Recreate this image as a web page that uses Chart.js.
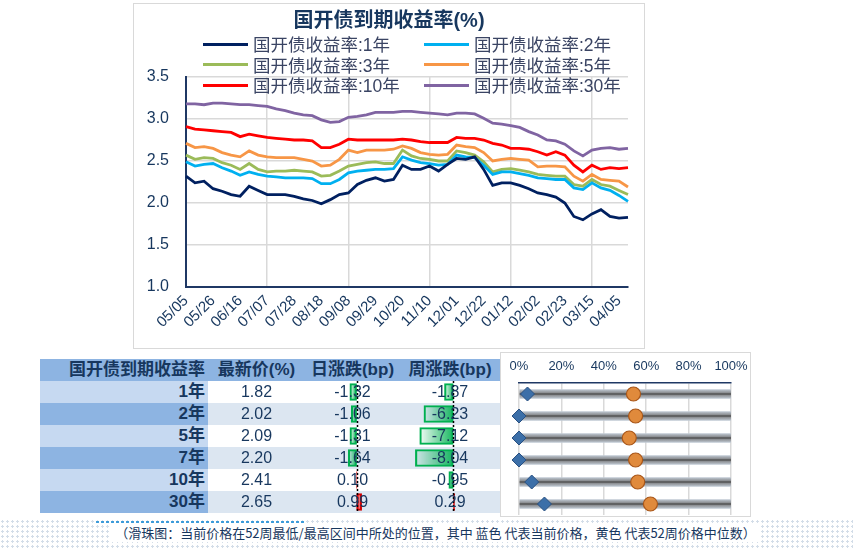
<!DOCTYPE html>
<html>
<head>
<meta charset="utf-8">
<script src="https://cdn.jsdelivr.net/npm/chart.js@4.4.1/dist/chart.umd.min.js"></script>
<style>
  body { margin: 0; width: 853px; height: 550px; position: relative; overflow: hidden; background: #fff;
         font-family: "Liberation Sans", "Noto Sans CJK SC", sans-serif; color: #17375e; }
  .abs { position: absolute; }
  #lineFrame { left: 133px; top: 3px; width: 512px; height: 346px; border: 1px solid #d9d9d9; box-sizing: border-box; }
  #lineTitle { left: 133px; top: 8px; width: 512px; text-align: center; font-size: 20px; font-weight: bold; line-height: 24px; color: #17375e; }
  .lg { font-size: 17.5px; line-height: 20px; color: #3a4463; white-space: nowrap; }
  .lg i { display: inline-block; width: 45px; height: 3px; vertical-align: middle; margin-right: 5px; position: relative; top: -2px; }
  #sliderFrame { left: 500px; top: 352px; width: 251px; height: 165px; border: 1px solid #d9d9d9; box-sizing: border-box; }
  .cellTxt { line-height: 22px; height: 22px; white-space: nowrap; }
  #dots { left: 0; top: 519px; width: 853px; height: 31px;
          background-image: radial-gradient(circle, #d3dde8 1px, rgba(255,255,255,0) 1.4px);
          background-size: 5px 5px; }
  #dotsAccent { left: 95px; top: 520px; width: 210px; height: 4px;
          background-image: radial-gradient(circle, #3a9ad9 1.1px, rgba(255,255,255,0) 1.5px);
          background-size: 5px 4px; }
  #caption { left: 9px; top: 525px; width: 853px; text-align: center; font-size: 13px; line-height: 16px;
             font-family: "Noto Sans CJK SC", sans-serif; color: #17375e; }
  #caption span { background: #fff; padding: 0 4px; }
</style>
</head>
<body>
<div id="lineFrame" class="abs"></div>
<canvas id="lineChart" class="abs" style="left:133px;top:3px" width="512" height="346"></canvas>
<div id="lineTitle" class="abs">国开债到期收益率(%)</div>
<div id="legend"></div>

<div id="tblBg"></div>
<canvas id="dayChart" class="abs" style="left:305px;top:381px" width="95" height="132"></canvas>
<canvas id="weekChart" class="abs" style="left:400px;top:381px" width="100" height="132"></canvas>
<div id="tblTxt"></div>

<div id="sliderFrame" class="abs"></div>
<canvas id="sliderChart" class="abs" style="left:500px;top:352px" width="250" height="166"></canvas>

<div id="dots" class="abs"></div>
<div id="caption" class="abs"><span>（滑珠图：当前价格在52周最低/最高区间中所处的位置，其中 蓝色 代表当前价格，黄色 代表52周价格中位数）</span></div>
<div id="dotsAccent" class="abs"></div>

<script>
// weekly dates, 2023-05-05 to 2024-04-12
const dates = ['05/05','05/12','05/19','05/26','06/02','06/09','06/16','06/23','06/30','07/07',
  '07/14','07/21','07/28','08/04','08/11','08/18','08/25','09/01','09/08','09/15',
  '09/22','09/29','10/06','10/13','10/20','10/27','11/03','11/10','11/17','11/24',
  '12/01','12/08','12/15','12/22','12/29','01/05','01/12','01/19','01/26','02/02',
  '02/09','02/16','02/23','03/01','03/08','03/15','03/22','03/29','04/05','04/12'];

const y1 = [2.32,2.24,2.26,2.17,2.14,2.10,2.08,2.20,2.15,2.10,
  2.10,2.10,2.08,2.05,2.03,1.99,2.04,2.10,2.12,2.22,
  2.27,2.30,2.26,2.28,2.45,2.40,2.40,2.44,2.38,2.46,
  2.53,2.52,2.55,2.40,2.21,2.24,2.24,2.21,2.17,2.12,
  2.10,2.07,2.00,1.84,1.80,1.87,1.92,1.84,1.82,1.83];
const y2 = [2.49,2.44,2.46,2.47,2.42,2.38,2.33,2.37,2.34,2.32,
  2.31,2.30,2.30,2.30,2.29,2.23,2.23,2.28,2.36,2.38,
  2.39,2.40,2.40,2.41,2.55,2.51,2.48,2.47,2.45,2.46,
  2.57,2.55,2.54,2.45,2.34,2.37,2.37,2.35,2.33,2.30,
  2.29,2.28,2.28,2.18,2.16,2.24,2.18,2.15,2.09,2.02];
const y3 = [2.57,2.52,2.54,2.53,2.48,2.45,2.40,2.47,2.40,2.37,
  2.38,2.38,2.39,2.38,2.37,2.32,2.33,2.38,2.44,2.46,
  2.48,2.49,2.47,2.47,2.63,2.56,2.53,2.52,2.50,2.50,
  2.62,2.60,2.57,2.49,2.37,2.40,2.41,2.39,2.37,2.34,
  2.33,2.32,2.32,2.22,2.20,2.28,2.22,2.20,2.15,2.10];
const y5 = [2.71,2.66,2.67,2.65,2.60,2.57,2.55,2.62,2.57,2.55,
  2.54,2.54,2.54,2.52,2.50,2.44,2.45,2.52,2.63,2.60,
  2.63,2.63,2.63,2.64,2.68,2.65,2.60,2.58,2.57,2.58,
  2.69,2.67,2.66,2.60,2.50,2.52,2.53,2.52,2.51,2.43,
  2.44,2.44,2.43,2.32,2.26,2.34,2.28,2.27,2.26,2.19];
const y10 = [2.91,2.88,2.87,2.86,2.85,2.84,2.79,2.82,2.80,2.78,
  2.77,2.76,2.75,2.75,2.74,2.66,2.66,2.70,2.76,2.75,
  2.75,2.75,2.75,2.75,2.76,2.75,2.73,2.72,2.72,2.72,
  2.78,2.77,2.77,2.75,2.71,2.69,2.65,2.65,2.64,2.61,
  2.57,2.61,2.57,2.45,2.37,2.45,2.40,2.42,2.41,2.42];
const y30 = [3.18,3.18,3.17,3.19,3.19,3.18,3.17,3.17,3.16,3.15,
  3.12,3.10,3.07,3.05,3.04,2.99,2.96,2.97,3.02,3.03,
  3.05,3.08,3.08,3.08,3.09,3.09,3.08,3.07,3.06,3.05,
  3.07,3.07,3.06,3.01,2.95,2.94,2.92,2.90,2.85,2.81,
  2.75,2.74,2.70,2.62,2.56,2.63,2.65,2.66,2.64,2.65];

const seriesNames = ['国开债收益率:1年','国开债收益率:2年','国开债收益率:3年','国开债收益率:5年','国开债收益率:10年','国开债收益率:30年'];
const seriesColors = ['#002060','#00b0f0','#9bbb59','#f79646','#ff0000','#8064a2'];
const seriesValues = [y1, y2, y3, y5, y10, y30];

// table
const tenors = ['1年','2年','5年','7年','10年','30年'];
const latest = [1.82, 2.02, 2.09, 2.20, 2.41, 2.65];
const dailyChg = [-1.32, -1.06, -1.31, -1.64, 0.10, 0.99];
const weeklyChg = [-1.87, -6.23, -7.12, -8.04, -0.95, 0.29];
const headers = ['国开债到期收益率','最新价(%)','日涨跌(bp)','周涨跌(bp)'];

// slider: position within 52-week range (%)
const currentPct = [4, 0, 0, 0, 6, 12];
const medianPct = [54, 55, 52, 55, 56, 62];
const pctTicks = [0, 20, 40, 60, 80, 100];

const navy = '#17375e';
const numFont = '"Liberation Sans", "Noto Sans CJK SC", sans-serif';

// legend (html, two columns)
const legend = document.getElementById('legend');
seriesNames.forEach((name, i) => {
  const d = document.createElement('div');
  d.className = 'abs lg';
  d.style.left = (i % 2 === 0 ? 203 : 424) + 'px';
  d.style.top = (35 + Math.floor(i / 2) * 20.5) + 'px';
  d.innerHTML = '<i style="background:' + seriesColors[i] + '"></i>' + name;
  legend.appendChild(d);
});

new Chart(document.getElementById('lineChart'), {
  type: 'line',
  data: {
    labels: dates,
    datasets: seriesValues.map((vals, i) => ({
      label: seriesNames[i],
      data: vals,
      borderColor: seriesColors[i],
      backgroundColor: seriesColors[i],
      borderWidth: 2.8,
      pointRadius: 0,
      tension: 0
    }))
  },
  options: {
    responsive: false,
    animation: false,
    layout: { padding: { top: 74, right: 17, left: 0, bottom: 0 } },
    plugins: { legend: { display: false }, tooltip: { enabled: false } },
    scales: {
      x: {
        grid: { color: c => (c.index % 3 === 0 ? '#d9d9d9' : 'rgba(0,0,0,0)'), lineWidth: 1.5, drawTicks: false },
        border: { color: '#1f3864', width: 2 },
        ticks: {
          autoSkip: false, minRotation: 45, maxRotation: 45, padding: 5,
          color: navy, font: { size: 15, family: numFont },
          callback: (v, i) => (i % 3 === 0 ? dates[i] : null)
        },
        afterFit: s => { s.height = 62; }
      },
      y: {
        min: 1, max: 3.5,
        grid: { color: '#d9d9d9', lineWidth: 1.5, drawTicks: false },
        border: { color: '#1f3864', width: 2 },
        ticks: { stepSize: 0.5, padding: 17, color: navy, font: { size: 16, family: numFont },
                 callback: v => v.toFixed(1) },
        afterFit: s => { s.width = 53; }
      }
    }
  }
});

// table backgrounds and text
const colX = [40, 208, 305, 400, 500];
const headTop = 359, rowH = 22, bodyTop = 381;
function addDiv(parent, x, y, w, h, css, html) {
  const d = document.createElement('div');
  d.className = 'abs';
  d.style.cssText += 'left:' + x + 'px;top:' + y + 'px;width:' + w + 'px;height:' + h + 'px;' + css;
  if (html !== undefined) d.innerHTML = html;
  document.getElementById(parent).appendChild(d);
  return d;
}
addDiv('tblBg', colX[0], headTop, colX[4] - colX[0], rowH, 'background:#8db4e2');
tenors.forEach((t, i) => {
  const y = bodyTop + i * rowH;
  addDiv('tblBg', colX[0], y, colX[1] - colX[0], rowH, 'background:' + (i % 2 ? '#8db4e2' : '#c6d9f1'));
  addDiv('tblBg', colX[1], y, colX[4] - colX[1], rowH, 'background:' + (i % 2 ? '#dce6f1' : '#ffffff'));
});
const boldCss = 'font-weight:bold;font-size:17px;color:' + navy + ';';
addDiv('tblTxt', colX[0], headTop, colX[1] - colX[0] - 3, rowH, 'text-align:right;' + boldCss, headers[0]).className += ' cellTxt';
for (let c = 1; c < 4; c++) {
  addDiv('tblTxt', colX[c], headTop, colX[c + 1] - colX[c], rowH, 'text-align:center;' + boldCss, headers[c]).className += ' cellTxt';
}
tenors.forEach((t, i) => {
  const y = bodyTop + i * rowH;
  const valCss = 'text-align:center;font-size:16px;color:' + navy + ';';
  addDiv('tblTxt', colX[0], y, colX[1] - colX[0] - 3, rowH, 'text-align:right;' + boldCss, t).className += ' cellTxt';
  addDiv('tblTxt', colX[1], y, colX[2] - colX[1], rowH, valCss, latest[i].toFixed(2)).className += ' cellTxt';
  addDiv('tblTxt', colX[2], y, colX[3] - colX[2], rowH, valCss, dailyChg[i].toFixed(2)).className += ' cellTxt';
  addDiv('tblTxt', colX[3], y, colX[4] - colX[3], rowH, valCss, weeklyChg[i].toFixed(2)).className += ' cellTxt';
});

// data bars inside the change columns
function barFill(ctx) {
  const chart = ctx.chart, xs = chart.scales.x, v = ctx.raw;
  const rgb = v < 0 ? '0,176,80' : '255,0,0';
  if (!xs || typeof v !== 'number') return 'rgba(' + rgb + ',0.6)';
  const x0 = xs.getPixelForValue(0), x1 = xs.getPixelForValue(v);
  if (!isFinite(x0) || !isFinite(x1) || x0 === x1) return 'rgba(' + rgb + ',0.6)';
  const g = chart.ctx.createLinearGradient(x1, 0, x0, 0);
  g.addColorStop(0, 'rgba(' + rgb + ',0.05)');
  g.addColorStop(1, 'rgba(' + rgb + ',0.9)');
  return g;
}
const zeroLine = {
  id: 'zeroLine',
  afterDatasetsDraw(chart) {
    const { ctx, chartArea, scales } = chart;
    const x = Math.round(scales.x.getPixelForValue(0)) + 0.5;
    ctx.save();
    ctx.strokeStyle = '#000';
    ctx.lineWidth = 1.5;
    ctx.setLineDash([2, 2]);
    ctx.beginPath();
    ctx.moveTo(x, chartArea.top);
    ctx.lineTo(x, chartArea.bottom);
    ctx.stroke();
    ctx.restore();
  }
};
function changeChart(id, values, min, max) {
  new Chart(document.getElementById(id), {
    type: 'bar',
    data: {
      labels: tenors,
      datasets: [{
        data: values,
        backgroundColor: barFill,
        borderColor: ctx => (ctx.raw < 0 ? '#00b050' : '#d00000'),
        borderWidth: 1.5,
        borderSkipped: false,
        barThickness: 17
      }]
    },
    options: {
      indexAxis: 'y',
      responsive: false,
      animation: false,
      layout: { padding: 0 },
      plugins: { legend: { display: false }, tooltip: { enabled: false } },
      scales: { x: { display: false, min: min, max: max }, y: { display: false } }
    },
    plugins: [zeroLine]
  });
}
changeChart('dayChart', dailyChg, -10.1, 8.5);
changeChart('weekChart', weeklyChg, -11.3, 9.9);

// slider chart
function tubeFill(ctx) {
  const chart = ctx.chart, ys = chart.scales.y;
  const yc = ys ? ys.getPixelForValue(ctx.dataIndex) : NaN;
  if (!isFinite(yc)) return '#7f7f7f';
  const g = chart.ctx.createLinearGradient(0, yc - 5, 0, yc + 5);
  g.addColorStop(0, '#c8d2dd');
  g.addColorStop(0.35, '#8f9296');
  g.addColorStop(0.5, '#4a4a4a');
  g.addColorStop(0.65, '#8f9296');
  g.addColorStop(1, '#c8d2dd');
  return g;
}
new Chart(document.getElementById('sliderChart'), {
  type: 'bar',
  data: {
    labels: tenors,
    datasets: [
      {
        type: 'line', showLine: false, clip: false,
        data: tenors.map((t, i) => ({ x: currentPct[i], y: t })),
        pointStyle: 'rectRot', pointRadius: 7,
        pointBackgroundColor: '#3c6fa8', pointBorderColor: '#2a5182', pointBorderWidth: 1
      },
      {
        type: 'line', showLine: false, clip: false,
        data: tenors.map((t, i) => ({ x: medianPct[i], y: t })),
        pointStyle: 'circle', pointRadius: 7,
        pointBackgroundColor: '#e08a3c', pointBorderColor: '#a9571a', pointBorderWidth: 1.2
      },
      {
        type: 'bar',
        data: tenors.map(() => [pctTicks[0], pctTicks[pctTicks.length - 1]]),
        backgroundColor: tubeFill,
        barThickness: 9
      }
    ]
  },
  options: {
    indexAxis: 'y',
    responsive: false,
    animation: false,
    layout: { autoPadding: false, padding: { left: 19, right: 19, top: 0, bottom: 3 } },
    plugins: { legend: { display: false }, tooltip: { enabled: false } },
    scales: {
      x: {
        type: 'linear', position: 'top', min: 0, max: 100,
        grid: { color: '#d9d9d9', lineWidth: 1.5, drawTicks: false },
        border: { color: '#1f3864', width: 1.5 },
        ticks: { stepSize: 20, padding: 9, color: navy, font: { size: 13, family: numFont },
                 callback: v => v + '%' },
        afterFit: s => { s.height = 31; s.paddingLeft = 0; s.paddingRight = 0; }
      },
      y: { display: false }
    }
  }
});
</script>
</body>
</html>
